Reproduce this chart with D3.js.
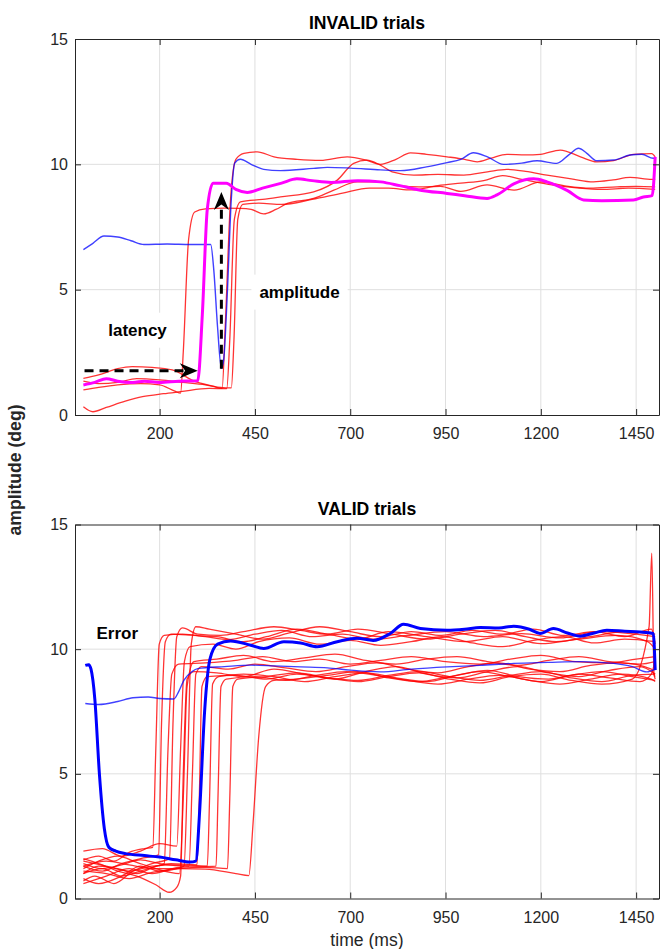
<!DOCTYPE html>
<html>
<head>
<meta charset="utf-8">
<script src="https://cdn.jsdelivr.net/npm/d3@7"></script>
<style>
  body { margin: 0; background: #fff; }
  text { font-family: "Liberation Sans", Arial, Helvetica, sans-serif; }
</style>
</head>
<body>
<svg id="chart"></svg>
<script>
// axis ticks
const xTicks = [200, 450, 700, 950, 1200, 1450];
const yTicks = [0, 5, 10, 15];

// INVALID trials: [time ms, amplitude deg]
const invalidRed = [
  [[0,1.0],[40,1.1],[90,1.2],[150,1.25],[200,1.2],[240,0.95],[255,0.87],[262,2.5],[276,7.0],[292,8.1],[320,8.22],[370,8.25],[410,8.24],[440,8.2],[473,8.02],[505,8.2],[535,8.44],[604,8.64],[657,8.97],[718,9.3],[779,9.3],[830,9.15],[880,9.1],[937,9.12],[990,8.92],[1059,9.18],[1130,8.97],[1200,9.3],[1260,9.15],[1330,9.05],[1400,9.1],[1450,9.12],[1500,9.1]],
  [[0,1.46],[40,1.6],[90,1.85],[128,1.93],[180,1.9],[233,1.8],[294,1.33],[340,1.15],[364,1.06],[372,3.5],[386,8.6],[400,10.2],[421,10.44],[456,10.5],[500,10.3],[561,10.2],[622,10.16],[692,10.3],[744,10.16],[779,10.0],[820,10.2],[858,10.46],[900,10.4],[954,10.3],[1000,10.2],[1033,10.1],[1070,10.25],[1111,10.4],[1160,10.38],[1199,10.4],[1251,10.57],[1304,10.3],[1347,10.1],[1391,10.15],[1443,10.4],[1491,10.43],[1500,10.3]],
  [[0,0.33],[25,0.13],[60,0.3],[110,0.55],[155,0.73],[210,0.85],[255,0.93],[330,1.06],[376,1.05],[384,3.0],[396,7.8],[412,8.5],[470,8.6],[517,8.7],[604,8.9],[666,9.37],[709,10.04],[744,10.17],[779,9.97],[810,9.7],[867,9.57],[930,9.6],[998,9.57],[1060,9.7],[1111,9.8],[1160,9.72],[1216,9.57],[1280,9.42],[1338,9.3],[1390,9.38],[1434,9.48],[1491,9.4],[1500,9.4]],
  [[0,1.35],[40,1.25],[90,1.3],[140,1.45],[200,1.4],[260,1.3],[320,1.2],[360,1.1],[388,1.08],[395,3.0],[405,7.8],[418,8.4],[460,8.45],[520,8.4],[600,8.6],[680,8.85],[750,9.05],[800,9.05],[860,8.98],[930,9.15],[990,9.25],[1050,9.35],[1100,9.55],[1150,9.4],[1220,9.2],[1300,9.05],[1360,9.0],[1430,9.05],[1500,9.0]]
];
const invalidBlue = [[0,6.6],[25,6.85],[54,7.14],[90,7.1],[125,6.95],[159,6.8],[220,6.82],[280,6.8],[334,6.8],[342,5.8],[352,3.5],[362,1.86],[368,2.2],[378,5.0],[388,8.6],[397,10.05],[412,10.2],[440,10.0],[473,9.8],[517,9.75],[604,9.84],[640,9.88],[700,9.85],[779,9.78],[832,9.75],[900,9.9],[954,10.07],[990,10.2],[1023,10.46],[1060,10.3],[1102,10.0],[1150,10.05],[1190,10.14],[1242,10.04],[1275,10.4],[1299,10.64],[1320,10.45],[1347,10.14],[1391,10.17],[1434,10.37],[1465,10.4],[1495,10.24],[1500,10.24]];
const invalidMagenta = [[0,1.2],[30,1.3],[60,1.45],[90,1.35],[130,1.3],[160,1.35],[200,1.3],[250,1.35],[300,1.37],[312,4.0],[325,8.2],[340,9.25],[375,9.25],[400,9.0],[430,8.88],[470,9.05],[520,9.25],[560,9.42],[600,9.35],[650,9.28],[720,9.35],[780,9.3],[830,9.15],[884,8.97],[954,8.84],[1000,8.75],[1059,8.64],[1085,8.78],[1129,9.22],[1181,9.42],[1216,9.3],[1270,8.95],[1312,8.58],[1360,8.55],[1443,8.58],[1469,8.7],[1492,8.75],[1500,10.3]];

// VALID trials
const validRed = [
  [[0,1.55],[40,1.7],[80,1.5],[120,1.85],[160,2.0],[182,2.05],[190,6.0],[199,10.2],[212,10.55],[260,10.6],[320,10.5],[380,10.38],[450,10.6],[520,10.75],[600,10.5],[680,10.6],[760,10.4],[850,10.55],[950,10.7],[1050,10.5],[1150,10.62],[1250,10.45],[1350,10.7],[1450,10.6],[1500,10.5]],
  [[0,1.3],[50,1.1],[100,1.4],[150,1.6],[197,1.75],[205,7.0],[215,10.3],[230,10.6],[290,10.55],[350,10.5],[420,10.3],[480,10.5],[560,10.8],[640,10.6],[720,10.4],[800,10.7],[900,10.5],[1000,10.3],[1100,10.5],[1200,10.22],[1300,10.4],[1400,10.55],[1480,10.3],[1500,10.0]],
  [[0,1.0],[40,1.3],[90,1.2],[140,1.0],[190,1.3],[212,1.4],[222,6.0],[232,9.0],[250,9.4],[320,9.45],[400,9.55],[470,9.7],[550,9.5],[620,9.6],[700,9.4],[780,9.55],[860,9.7],[950,9.5],[1040,9.4],[1120,9.6],[1200,9.75],[1290,9.5],[1380,9.45],[1450,9.6],[1500,9.7]],
  [[0,0.7],[30,0.9],[80,0.6],[130,1.1],[180,1.4],[226,1.6],[235,7.0],[245,10.5],[260,10.85],[300,10.6],[360,10.55],[420,10.7],[500,10.9],[570,10.75],[640,10.6],[720,10.8],[810,10.6],[900,10.4],[990,10.6],[1080,10.75],[1160,10.5],[1240,10.3],[1330,10.5],[1420,10.7],[1500,10.6]],
  [[0,1.6],[40,1.4],[90,1.1],[140,0.9],[190,0.55],[225,0.25],[245,0.45],[255,0.9],[262,5.0],[272,8.8],[290,9.1],[350,9.05],[420,8.9],[500,9.2],[580,9.0],[660,8.8],[740,9.1],[820,9.3],[900,9.0],[980,8.85],[1060,9.1],[1140,9.3],[1220,9.05],[1300,8.9],[1380,9.15],[1460,9.3],[1500,9.0]],
  [[0,1.9],[50,2.0],[100,1.7],[150,1.9],[200,2.2],[245,2.1],[255,6.0],[265,9.5],[280,10.1],[340,10.2],[400,10.0],[460,10.3],[540,10.45],[620,10.2],[700,10.35],[780,10.15],[860,10.3],[940,10.5],[1020,10.25],[1100,10.1],[1180,10.35],[1260,10.5],[1340,10.25],[1420,10.4],[1500,10.3]],
  [[0,1.2],[40,1.5],[90,1.7],[140,1.45],[190,1.2],[252,1.0],[262,4.0],[272,8.5],[290,9.5],[350,9.6],[420,9.75],[500,9.5],[580,9.65],[660,9.8],[740,9.55],[820,9.4],[900,9.6],[980,9.7],[1060,9.5],[1140,9.35],[1220,9.55],[1300,9.7],[1380,9.5],[1460,9.4],[1500,9.5]],
  [[0,0.8],[40,0.6],[100,0.9],[150,1.3],[200,1.1],[264,1.3],[273,5.0],[283,10.2],[295,10.9],[330,10.8],[400,10.6],[470,10.4],[540,10.65],[620,10.9],[700,10.7],[780,10.5],[860,10.7],[940,10.55],[1020,10.75],[1100,10.6],[1180,10.8],[1260,10.55],[1340,10.7],[1420,10.5],[1490,10.8],[1500,10.2]],
  [[0,1.4],[50,1.2],[100,1.35],[150,1.55],[200,1.4],[277,1.3],[286,5.0],[295,9.0],[310,9.3],[380,9.2],[450,9.4],[530,9.25],[610,9.1],[690,9.3],[770,9.45],[850,9.2],[930,9.05],[1010,9.3],[1090,9.45],[1170,9.2],[1250,9.1],[1330,9.35],[1410,9.45],[1490,9.2],[1500,8.8]],
  [[0,1.0],[50,1.2],[100,0.9],[160,1.15],[230,1.4],[298,1.35],[304,4.0],[311,8.5],[325,8.9],[400,8.95],[480,8.8],[560,9.0],[640,8.85],[720,8.75],[800,8.95],[880,9.1],[960,8.9],[1040,8.75],[1120,8.95],[1200,9.1],[1280,8.85],[1360,8.7],[1440,8.95],[1500,9.0]],
  [[0,1.5],[60,1.3],[120,1.1],[180,1.3],[250,1.35],[325,1.3],[331,4.0],[339,8.6],[355,8.9],[420,9.0],[500,8.9],[580,8.7],[660,8.9],[740,9.05],[820,8.85],[900,8.7],[980,8.95],[1060,9.15],[1140,8.9],[1220,8.8],[1300,9.0],[1380,8.85],[1460,8.7],[1490,9.0],[1500,9.6]],
  [[0,0.6],[60,0.9],[120,1.2],[180,1.0],[250,1.25],[348,1.3],[353,4.0],[361,8.5],[375,8.8],[450,8.9],[530,8.75],[610,8.95],[690,9.1],[770,8.95],[850,8.75],[930,8.6],[1010,8.8],[1090,8.95],[1170,8.75],[1250,8.6],[1330,8.8],[1410,9.0],[1490,8.8],[1500,8.7]],
  [[0,1.1],[60,1.0],[120,0.8],[180,1.05],[250,1.2],[320,1.25],[378,1.2],[384,4.0],[392,8.5],[405,8.8],[480,8.9],[560,9.05],[640,8.85],[720,8.7],[800,8.9],[880,9.05],[960,8.8],[1040,8.65],[1120,8.9],[1200,9.0],[1280,8.75],[1360,8.6],[1440,8.8],[1484,10.9],[1491,13.85],[1497,9.0],[1500,8.9]],
  [[0,1.3],[60,1.5],[120,1.35],[180,1.2],[250,1.2],[320,1.18],[400,1.0],[434,0.92],[445,3.0],[460,6.5],[478,8.5],[500,8.75],[560,8.8],[640,8.95],[720,9.1],[800,8.85],[880,8.7],[960,8.9],[1040,9.1],[1120,8.9],[1200,8.7],[1280,8.95],[1360,9.1],[1440,8.9],[1500,8.75]]
];
const validBlueThin = [[5,7.82],[40,7.78],[90,7.9],[130,8.05],[170,8.08],[200,8.02],[237,8.0],[250,8.3],[264,8.76],[285,9.1],[300,9.22],[370,9.3],[440,9.36],[500,9.33],[570,9.29],[640,9.25],[700,9.16],[779,9.09],[860,9.2],[954,9.29],[1040,9.35],[1129,9.43],[1220,9.47],[1303,9.5],[1391,9.43],[1440,9.3],[1478,9.09],[1500,9.2]];
const validBlueThick = [[5,9.35],[14,9.38],[20,9.2],[30,8.0],[42,5.0],[55,2.8],[67,2.05],[85,1.9],[111,1.8],[160,1.72],[200,1.66],[242,1.55],[280,1.46],[295,1.5],[305,3.5],[318,7.5],[332,9.6],[352,10.2],[386,10.33],[439,10.16],[473,10.03],[526,10.3],[570,10.25],[613,10.1],[666,10.3],[718,10.44],[760,10.35],[805,10.63],[840,11.0],[884,10.83],[954,10.76],[1000,10.8],[1041,10.87],[1090,10.85],[1129,10.92],[1170,10.8],[1198,10.63],[1233,10.83],[1270,10.65],[1303,10.52],[1340,10.65],[1373,10.76],[1420,10.72],[1461,10.69],[1495,10.63],[1500,9.16]];

// annotations (data units)
const latencyArrow = [[3,1.77],[300,1.77]];
const amplitudeArrow = [[362,1.85],[362,8.9]];
const invalidNotes = [{label: "latency", t: 142, v: 3.4, box: true}, {label: "amplitude", t: 567, v: 4.92, box: true}];
const validNotes = [{label: "Error", t: 89, v: 10.64, box: false}];

const W = 662, H = 949;
const axisColor = "#262626";
const svg = d3.select("#chart").attr("width", W).attr("height", H);

const x = d3.scaleLinear().domain([-22, 1510]).range([75, 659]);

const panels = [
  {title: "INVALID trials", top: 39, bottom: 415, red: invalidRed, thin: [invalidBlue], thick: [[invalidMagenta, "#ff00ff"]], notes: invalidNotes, arrows: [latencyArrow, amplitudeArrow]},
  {title: "VALID trials", top: 524.5, bottom: 898.5, red: validRed, thin: [validBlueThin], thick: [[validBlueThick, "#0000ff"]], notes: validNotes, arrows: []}
];

panels.forEach((p, i) => drawPanel(p, i));

function drawPanel(p, i) {
  const y = d3.scaleLinear().domain([0, 15]).range([p.bottom, p.top]);
  const g = svg.append("g");
  const [x0, x1] = x.range();

  // grid
  g.append("g").selectAll("line").data(xTicks).enter().append("line")
    .attr("x1", d => x(d)).attr("x2", d => x(d))
    .attr("y1", p.top).attr("y2", p.bottom)
    .attr("stroke", "#dfdfdf").attr("stroke-width", 1);
  g.append("g").selectAll("line").data(yTicks.slice(1, -1)).enter().append("line")
    .attr("x1", x0).attr("x2", x1)
    .attr("y1", d => y(d)).attr("y2", d => y(d))
    .attr("stroke", "#dfdfdf").attr("stroke-width", 1);

  svg.append("clipPath").attr("id", "clip" + i).append("rect")
    .attr("x", x0).attr("y", p.top).attr("width", x1 - x0).attr("height", p.bottom - p.top);

  const line = d3.line().x(d => x(d[0])).y(d => y(d[1])).curve(d3.curveMonotoneX);
  const plot = g.append("g").attr("clip-path", `url(#clip${i})`);
  const noteG = g.append("g");

  plot.selectAll(".red").data(p.red).enter().append("path")
    .attr("d", line).attr("fill", "none")
    .attr("stroke", "#ff0000").attr("stroke-opacity", 0.8).attr("stroke-width", 1.3);
  plot.selectAll(".thin").data(p.thin).enter().append("path")
    .attr("d", line).attr("fill", "none")
    .attr("stroke", "#0000ff").attr("stroke-opacity", 0.75).attr("stroke-width", 1.4);
  plot.selectAll(".thick").data(p.thick).enter().append("path")
    .attr("d", d => line(d[0])).attr("fill", "none")
    .attr("stroke", d => d[1]).attr("stroke-width", 3).attr("stroke-linejoin", "round");

  // notes, with white background where the figure had one
  p.notes.forEach(n => {
    const t = noteG.append("text")
      .attr("x", x(n.t)).attr("y", y(n.v)).attr("dy", "0.35em")
      .attr("text-anchor", "middle").attr("font-size", 17).attr("font-weight", "bold")
      .attr("fill", "#000").text(n.label);
    if (n.box) {
      const b = t.node().getBBox();
      noteG.insert("rect", "text").attr("x", b.x - 8).attr("y", b.y - 8)
        .attr("width", b.width + 16).attr("height", b.height + 16).attr("fill", "#fff");
    }
  });

  // dashed arrows
  p.arrows.forEach(a => {
    const sx = x(a[0][0]), sy = y(a[0][1]), ex = x(a[1][0]), ey = y(a[1][1]);
    const ang = Math.atan2(ey - sy, ex - sx);
    const L = 18, Wd = 7.5;
    const nx = ex - 0.7 * L * Math.cos(ang), ny = ey - 0.7 * L * Math.sin(ang);
    g.append("line").attr("x1", sx).attr("y1", sy).attr("x2", nx).attr("y2", ny)
      .attr("stroke", "#000").attr("stroke-width", 3).attr("stroke-dasharray", "9,6");
    const pts = [[0, 0], [-L, Wd], [-0.7 * L, 0], [-L, -Wd]].map(([u, v]) =>
      [ex + u * Math.cos(ang) - v * Math.sin(ang), ey + u * Math.sin(ang) + v * Math.cos(ang)]);
    g.append("path").attr("d", "M" + pts.join("L") + "Z").attr("fill", "#000");
  });

  // axes (ticks inward, box on)
  const styleAxis = sel => {
    sel.select(".domain").attr("stroke", axisColor).attr("stroke-width", 1);
    sel.selectAll(".tick line").attr("stroke", axisColor).attr("stroke-width", 1);
    sel.selectAll(".tick text").attr("fill", axisColor).attr("font-size", 16)
      .attr("font-family", '"Liberation Sans", Arial, sans-serif');
  };
  g.append("g").attr("transform", `translate(0,${p.bottom})`)
    .call(d3.axisBottom(x).tickValues(xTicks).tickFormat(d3.format("d"))
      .tickSizeInner(-6).tickSizeOuter(0).tickPadding(13))
    .call(styleAxis);
  g.append("g").attr("transform", `translate(0,${p.top})`)
    .call(d3.axisTop(x).tickValues(xTicks).tickSizeInner(-6).tickSizeOuter(0).tickFormat(""))
    .call(styleAxis);
  g.append("g").attr("transform", `translate(${x0},0)`)
    .call(d3.axisLeft(y).tickValues(yTicks).tickFormat(d3.format("d"))
      .tickSizeInner(-6).tickSizeOuter(0).tickPadding(7))
    .call(styleAxis);
  g.append("g").attr("transform", `translate(${x1},0)`)
    .call(d3.axisRight(y).tickValues(yTicks).tickSizeInner(-6).tickSizeOuter(0).tickFormat(""))
    .call(styleAxis);

  // title
  g.append("text").attr("x", (x0 + x1) / 2).attr("y", p.top - 10)
    .attr("text-anchor", "middle").attr("font-size", 17.6).attr("font-weight", "bold")
    .attr("fill", "#000").text(p.title);
}

// shared labels
svg.append("text").attr("x", (x.range()[0] + x.range()[1]) / 2).attr("y", 946)
  .attr("text-anchor", "middle").attr("font-size", 17.6).attr("fill", axisColor)
  .text("time (ms)");
svg.append("text").attr("transform", "translate(21,470) rotate(-90)")
  .attr("text-anchor", "middle").attr("font-size", 17.6).attr("font-weight", "bold")
  .attr("fill", axisColor).text("amplitude (deg)");
</script>
</body>
</html>
